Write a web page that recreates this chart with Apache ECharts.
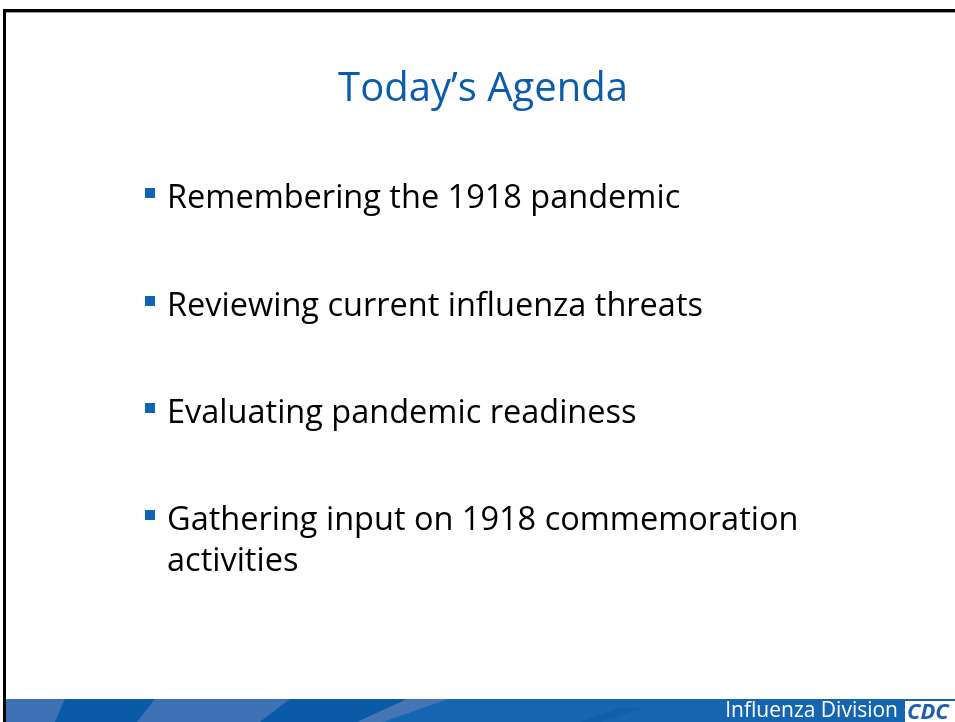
<!DOCTYPE html>
<html>
<head>
<meta charset="utf-8">
<script src="https://cdn.jsdelivr.net/npm/echarts@6/dist/echarts.min.js"></script>
<style>
  html, body { margin: 0; padding: 0; background: #fff; }
  #main { width: 955px; height: 722px; }
</style>
</head>
<body>
<div id="main"></div>
<script>
// slide content
var title = 'Today\u2019s Agenda';
var items = [
  ['Remembering the 1918 pandemic'],
  ['Reviewing current influenza threats'],
  ['Evaluating pandemic readiness'],
  ['Gathering input on 1918 commemoration', 'activities']
];
var itemY = [196, 304, 411, 518];
var footer = 'Influenza Division';

var chart = echarts.init(document.getElementById('main'));

var FONT = '"Open Sans", sans-serif';
var blue = '#0b5cad';

var els = [];

// frame
els.push({ type: 'rect', shape: { x: 3, y: 9, width: 960, height: 3 }, style: { fill: '#000' } });
els.push({ type: 'rect', shape: { x: 3, y: 12, width: 960, height: 1 }, style: { fill: '#9a9a9a' } });
els.push({ type: 'rect', shape: { x: 3, y: 9, width: 3, height: 720 }, style: { fill: '#000' } });

// title
els.push({
  type: 'text', x: 483, y: 90,
  style: { text: title, fill: blue, font: '40px ' + FONT, textAlign: 'center', textVerticalAlign: 'middle' }
});

// bullets
items.forEach(function (lines, i) {
  els.push({ type: 'rect', shape: { x: 145, y: itemY[i] - 8, width: 10, height: 10 }, style: { fill: '#0f63b8' } });
  lines.forEach(function (t, j) {
    els.push({
      type: 'text', x: 167, y: itemY[i] + 3 + j * 41,
      style: { text: t, fill: '#000', font: '32.5px ' + FONT, textVerticalAlign: 'middle' }
    });
  });
});

// footer bar
els.push({ type: 'rect', shape: { x: 6, y: 699, width: 950, height: 23 }, style: { fill: '#1565b0' } });
els.push({ type: 'polygon', shape: { points: [[6, 699], [65, 699], [55, 722], [6, 722]] }, style: { fill: '#3e72b6' } });
els.push({ type: 'polygon', shape: { points: [[65, 699], [155, 699], [137, 722], [55, 722]] }, style: { fill: '#0a5aa7' } });
els.push({ type: 'polygon', shape: { points: [[155, 699], [290, 699], [260, 722], [137, 722]] }, style: { fill: '#3e72b6' } });
els.push({ type: 'polygon', shape: { points: [[290, 699], [407, 699], [357, 722], [260, 722]] }, style: { fill: '#0a5aa7' } });
els.push({ type: 'polygon', shape: { points: [[407, 699], [448, 699], [383, 722], [357, 722]] }, style: { fill: '#4575b5' } });
els.push({ type: 'polygon', shape: { points: [[580, 722], [620, 708], [955, 700], [955, 722]] }, style: { fill: '#0f5ea9', opacity: 0.8 } });
els.push({ type: 'polygon', shape: { points: [[600, 722], [670, 699], [955, 699], [955, 722]] }, style: { fill: '#1565b0' } });

els.push({
  type: 'text', x: 898, y: 711,
  style: { text: footer, fill: '#fff', font: '21px ' + FONT, textAlign: 'right', textVerticalAlign: 'middle' }
});
// CDC mark
els.push({ type: 'rect', shape: { x: 905, y: 701, width: 55, height: 21 }, style: { fill: '#fff' } });
els.push({
  type: 'text', x: 907, y: 713,
  style: { text: 'CDC', fill: '#1b5fae', font: 'italic bold 22px ' + FONT, textVerticalAlign: 'middle' }
});

chart.setOption({
  animation: false,
  graphic: { elements: els }
});
</script>
</body>
</html>
